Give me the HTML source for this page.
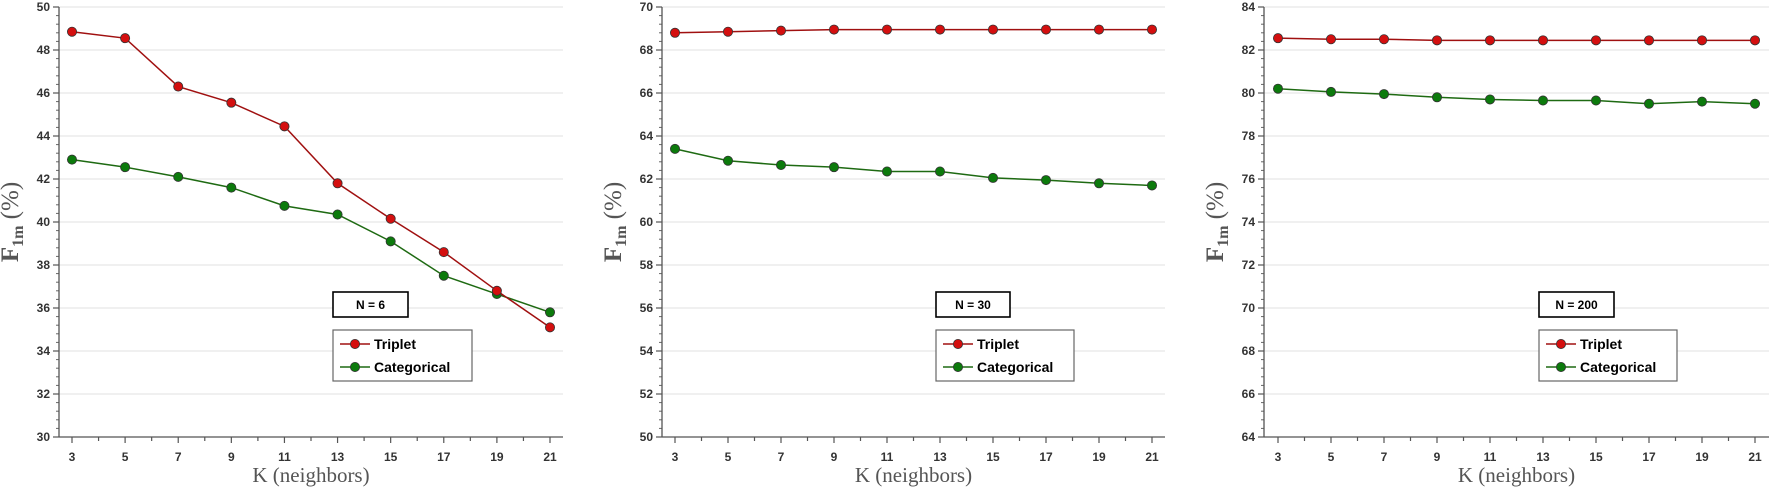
<!DOCTYPE html>
<html><head><meta charset="utf-8"><style>
html,body{margin:0;padding:0;background:#fff;}
svg{display:block;}
</style></head><body>
<svg id="s" width="1772" height="493" xmlns="http://www.w3.org/2000/svg"></svg>
<script>
(function(){
const S=document.getElementById('s');
let h='';
const panels=[
 {ax:59,x3:72,x21:550,right:563,ymin:30,ymax:50,nb:[333,292,75,25],lg:[333,330,139,51],n:'N = 6',
  t:[48.85,48.55,46.3,45.55,44.45,41.8,40.15,38.6,36.8,35.1],
  c:[42.9,42.55,42.1,41.6,40.75,40.35,39.1,37.5,36.65,35.8]},
 {ax:662,x3:675,x21:1152,right:1165,ymin:50,ymax:70,nb:[936,292,74,25],lg:[936,330,138,51],n:'N = 30',
  t:[68.8,68.85,68.9,68.95,68.95,68.95,68.95,68.95,68.95,68.95],
  c:[63.4,62.85,62.65,62.55,62.35,62.35,62.05,61.95,61.8,61.7]},
 {ax:1264,x3:1278,x21:1755,right:1769,ymin:64,ymax:84,nb:[1539,292,75,25],lg:[1539,330,138,51],n:'N = 200',
  t:[82.55,82.5,82.5,82.45,82.45,82.45,82.45,82.45,82.45,82.45],
  c:[80.2,80.05,79.95,79.8,79.7,79.65,79.65,79.5,79.6,79.5]}
];
const yTop=7,yBot=437;
panels.forEach(p=>{
 const X=k=>p.x3+(k-3)*(p.x21-p.x3)/18;
 const Y=v=>yBot-(v-p.ymin)*(yBot-yTop)/(p.ymax-p.ymin);
 for(let v=p.ymin;v<=p.ymax;v+=2){
  const y=Y(v);
  if(v>p.ymin) h+=`<line x1="${p.ax}" x2="${p.right}" y1="${y}" y2="${y}" stroke="#e6e6e6" stroke-width="1.2"/>`;
  h+=`<line x1="${p.ax-6}" x2="${p.ax}" y1="${y}" y2="${y}" stroke="#555" stroke-width="1.2"/>`;
  h+=`<text x="${p.ax-9}" y="${y+4}" text-anchor="end" font-family="Liberation Sans,sans-serif" font-weight="bold" font-size="12" fill="#333">${v}</text>`;
  if(v<p.ymax) for(let m=1;m<5;m++){const yy=Y(v+m*0.4);h+=`<line x1="${p.ax-3}" x2="${p.ax}" y1="${yy}" y2="${yy}" stroke="#666"/>`;}
 }
 for(let k=2;k<=22;k++){
  const x=X(k); if(x<p.ax||x>p.right)continue;
  const major=(k%2==1);
  h+=`<line x1="${x}" x2="${x}" y1="${yBot}" y2="${yBot+(major?6:4)}" stroke="#555" stroke-width="1.2"/>`;
  if(major) h+=`<text x="${x}" y="${yBot+24}" text-anchor="middle" font-family="Liberation Sans,sans-serif" font-weight="bold" font-size="12" fill="#333">${k}</text>`;
 }
 h+=`<line x1="${p.ax}" x2="${p.ax}" y1="${yTop}" y2="${yBot}" stroke="#555" stroke-width="1.3"/>`;
 h+=`<line x1="${p.ax}" x2="${p.right}" y1="${yBot}" y2="${yBot}" stroke="#555" stroke-width="1.3"/>`;
 const series=[[p.c,'#1e6a12','#0c7a0c'],[p.t,'#a01010','#d40f0f']];
 series.forEach(([d,lc,fc])=>{
  let pts=d.map((v,i)=>X(3+2*i)+','+Y(v)).join(' ');
  h+=`<polyline points="${pts}" fill="none" stroke="${lc}" stroke-width="1.5"/>`;
  d.forEach((v,i)=>{h+=`<circle cx="${X(3+2*i)}" cy="${Y(v)}" r="4.6" fill="${fc}" stroke="#333" stroke-width="0.8"/>`;});
 });
 const [nx,ny,nw,nh]=p.nb;
 h+=`<rect x="${nx}" y="${ny}" width="${nw}" height="${nh}" fill="#fff" stroke="#000" stroke-width="1.6"/>`;
 h+=`<text x="${nx+nw/2}" y="${ny+17}" text-anchor="middle" font-family="Liberation Sans,sans-serif" font-weight="bold" font-size="12">${p.n}</text>`;
 const [lx,ly,lw,lh]=p.lg;
 h+=`<rect x="${lx}" y="${ly}" width="${lw}" height="${lh}" fill="#fff" stroke="#666" stroke-width="1.2"/>`;
 [[ly+14,'#a01010','#d40f0f','Triplet'],[ly+37,'#1e6a12','#0c7a0c','Categorical']].forEach(([yy,lc,fc,t])=>{
  h+=`<line x1="${lx+7}" x2="${lx+37}" y1="${yy}" y2="${yy}" stroke="${lc}" stroke-width="1.5"/>`;
  h+=`<circle cx="${lx+22}" cy="${yy}" r="4.6" fill="${fc}" stroke="#333" stroke-width="0.8"/>`;
  h+=`<text x="${lx+41}" y="${yy+5}" font-family="Liberation Sans,sans-serif" font-weight="bold" font-size="14">${t}</text>`;
 });
 const cx=(p.ax+p.right)/2;
 h+=`<text x="${cx}" y="482" text-anchor="middle" font-family="Liberation Serif,serif" font-size="21" fill="#555">K (neighbors)</text>`;
 h+=`<text transform="translate(${p.ax-41},222) rotate(-90)" text-anchor="middle" font-family="Liberation Serif,serif" font-size="25" fill="#555"><tspan font-weight="bold">F</tspan><tspan font-size="16" font-weight="bold" dy="5">1m</tspan><tspan dy="-5"> (%)</tspan></text>`;
});
S.innerHTML=h;
})();
</script>
</body></html>
